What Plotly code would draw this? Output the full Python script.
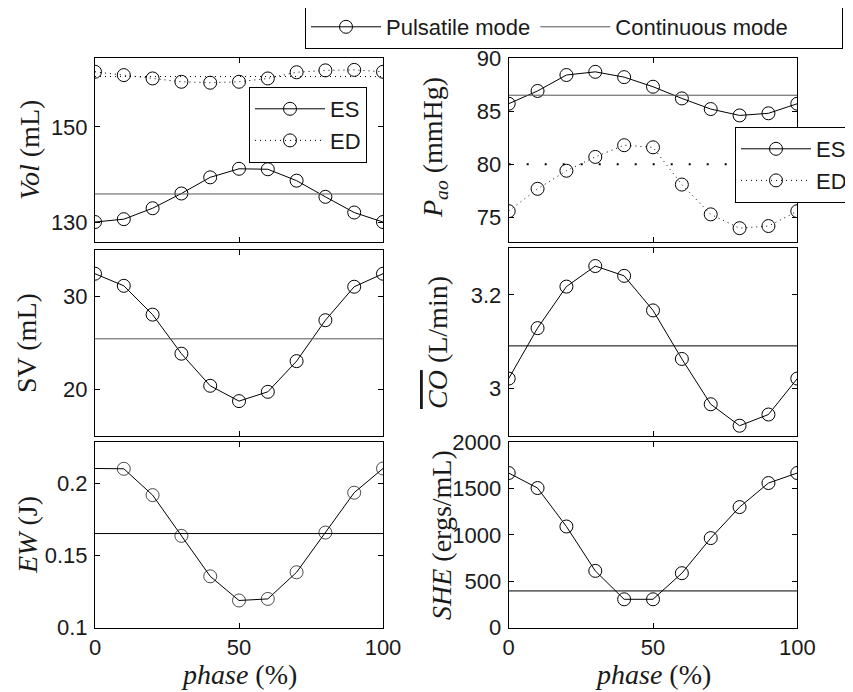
import plotly.graph_objects as go
from plotly.subplots import make_subplots

# ---- data ----
phase = [0, 10, 20, 30, 40, 50, 60, 70, 80, 90, 100]

vol_es = [130.0, 130.6, 132.9, 136.0, 139.4, 141.2, 141.1, 138.7, 135.3, 132.0, 130.0]
vol_ed = [161.6, 160.9, 160.2, 159.5, 159.3, 159.5, 160.2, 161.5, 161.9, 162.0, 161.6]
vol_es_cont = 135.9
vol_ed_cont = 160.6

pao_es = [85.7, 86.9, 88.4, 88.7, 88.2, 87.3, 86.2, 85.2, 84.6, 84.8, 85.7]
pao_ed = [75.6, 77.7, 79.4, 80.7, 81.8, 81.6, 78.1, 75.3, 74.0, 74.2, 75.6]
pao_es_cont = 86.5
pao_ed_cont = 80.0

sv = [32.4, 31.1, 28.0, 23.8, 20.35, 18.7, 19.7, 23.0, 27.4, 31.0, 32.4]
sv_cont = 25.4

co = [3.021, 3.129, 3.218, 3.262, 3.241, 3.167, 3.063, 2.966, 2.920, 2.944, 3.021]
co_cont = 3.091

ew = [0.2106, 0.2104, 0.1921, 0.1638, 0.1357, 0.1189, 0.1200, 0.1385, 0.1661, 0.1938, 0.2106]
ew_cont = 0.1654

she = [1666, 1504, 1090, 612, 306, 306, 587, 965, 1299, 1558, 1666]
she_cont = 396

SANS = "Liberation Sans, Arial, sans-serif"
SERIF = "Liberation Serif, Times New Roman, serif"
BLACK = "#000000"
GREY = "#555555"
TXT = "#1a1a1a"
MS = 13
DOTS = "1px,4px"

# page has an 8px body margin, so the figure is a little smaller than the window
OFF = 8
W, H = 853 - OFF, 692 - OFF


def px(x):
    return (x - OFF) / W


def py(y):
    return 1 - (y - OFF) / H


fig = make_subplots(rows=3, cols=2)


def pulsatile(y, row, col, dash="solid", name=None, legend=None, sizes=None):
    fig.add_trace(
        go.Scatter(
            x=phase, y=y, mode="lines+markers",
            line=dict(color=BLACK, width=1, dash=dash),
            marker=dict(symbol="circle-open", size=sizes or MS,
                        color=BLACK, line=dict(width=1, color=BLACK)),
            name=name, showlegend=name is not None, legend=legend or "legend",
        ),
        row=row, col=col,
    )


def continuous(value, row, col, dash="solid", color=GREY, width=1,
               name=None, legend=None):
    fig.add_trace(
        go.Scatter(
            x=[phase[0], phase[-1]], y=[value, value], mode="lines",
            line=dict(color=color, width=width, dash=dash),
            name=name, showlegend=name is not None, legend=legend or "legend",
        ),
        row=row, col=col,
    )


# Vol
pulsatile(vol_es, 1, 1, name="ES", legend="legend2")
pulsatile(vol_ed, 1, 1, dash=DOTS, name="ED", legend="legend2")
continuous(vol_es_cont, 1, 1)
continuous(vol_ed_cont, 1, 1, dash=DOTS, color=BLACK)

# Pao
pulsatile(pao_es, 1, 2, name="ES", legend="legend3")
pulsatile(pao_ed, 1, 2, dash=DOTS, name="ED", legend="legend3")
continuous(pao_es_cont, 1, 2)
continuous(pao_ed_cont, 1, 2, dash="2px,16px", color=BLACK, width=2)

# SV (also feeds the top legend; trailing blanks mimic the roomy MATLAB box)
pulsatile(sv, 2, 1, name="Pulsatile mode")
continuous(sv_cont, 2, 1, name="Continuous mode" + "\u00a0" * 8)

# CO
pulsatile(co, 2, 2)
continuous(co_cont, 2, 2, color=BLACK)

# EW (no marker drawn at phase 0 in the original)
pulsatile(ew, 3, 1, sizes=[0] + [MS] * (len(phase) - 1))
continuous(ew_cont, 3, 1, color=BLACK)

# SHE
pulsatile(she, 3, 2)
continuous(she_cont, 3, 2, color=BLACK)

xdom_left = [px(95), px(383)]
xdom_right = [px(508.7), px(797.3)]
ydoms = [
    [py(242), py(58)],
    [py(436), py(250)],
    [py(627.7), py(442)],
]

yranges = [[125.8, 164.5], [72.7, 90], [14.95, 34.95], [2.898, 3.3], [0.1, 0.229], [0, 2000]]
ytickvals = [[130, 150], [75, 80, 85, 90], [20, 30], [3, 3.2], [0.1, 0.15, 0.2],
             [0, 500, 1000, 1500, 2000]]
yticktext = [["130", "150"], ["75", "80", "85", "90"], ["20", "30"], ["3", "3.2"],
             ["0.1", "0.15", "0.2"], ["0", "500", "1000", "1500", "2000"]]

axis_style = dict(
    showline=True, linecolor=BLACK, linewidth=1, mirror="allticks",
    ticks="inside", ticklen=5, tickcolor=BLACK, showgrid=False, zeroline=False,
    tickfont=dict(family=SANS, size=22, color=TXT),
)

for i in range(6):
    r, c = divmod(i, 2)
    sfx = "" if i == 0 else str(i + 1)
    xdom = xdom_left if c == 0 else xdom_right
    fig.layout["xaxis" + sfx].update(
        domain=xdom, range=[0, 100], tickvals=[0, 50, 100],
        showticklabels=(r == 2), **axis_style,
    )
    fig.layout["yaxis" + sfx].update(
        domain=ydoms[r], range=yranges[i], tickvals=ytickvals[i],
        ticktext=yticktext[i], ticklabelstandoff=2, **axis_style,
    )
# CO / right middle panel sits a hair higher
fig.layout["yaxis4"].update(domain=[py(436), py(248.3)])

ylabels = [
    "<i>Vol</i> (mL)",
    "<i>P</i><sub><i>ao</i></sub> (mmHg)",
    "SV (mL)",
    '<span style="text-decoration:overline"><i>CO</i></span> (L/min)',
    "<i>EW</i> (J)",
    "<i>SHE</i> (ergs/mL)",
]
ylabel_x = [29, 434, 27, 438, 27, 441]
ylabel_y = [150, 148, 343, 343, 535, 535]

for i, txt in enumerate(ylabels):
    fig.add_annotation(
        text=txt, xref="paper", yref="paper",
        x=px(ylabel_x[i]), y=py(ylabel_y[i]),
        xanchor="center", yanchor="middle", textangle=-90, showarrow=False,
        font=dict(family=SERIF, size=28, color=TXT),
    )

for xd in (xdom_left, xdom_right):
    fig.add_annotation(
        text="<i>phase</i> (%)", xref="paper", yref="paper",
        x=(xd[0] + xd[1]) / 2, y=py(674),
        xanchor="center", yanchor="middle", showarrow=False,
        font=dict(family=SERIF, size=28, color=TXT),
    )

legend_box = dict(
    bgcolor="white", bordercolor=BLACK, borderwidth=1, itemwidth=70,
    font=dict(family=SANS, size=22, color=TXT),
)

fig.update_layout(
    width=W, height=H,
    margin=dict(l=0, r=0, t=0, b=0, autoexpand=False),
    paper_bgcolor="white", plot_bgcolor="white",
    legend=dict(orientation="h", x=px(305), y=py(5), xanchor="left",
                yanchor="top", **legend_box),
    legend2=dict(x=px(249), y=py(87), xanchor="left", yanchor="top",
                 **legend_box),
    legend3=dict(x=px(735), y=py(127), xanchor="left", yanchor="top",
                 **legend_box),
)

fig.write_html("out.html")
